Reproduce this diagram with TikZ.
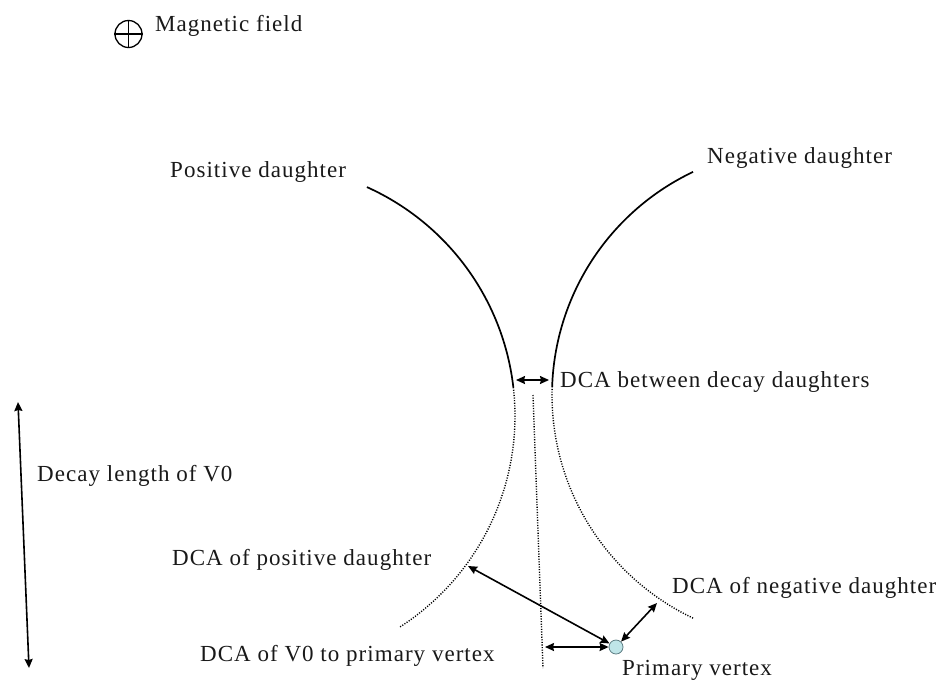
\documentclass[tikz,border=0pt]{standalone}
\usepackage{fontspec}
\setmainfont{Liberation Serif}[LetterSpace=4.5]
\usetikzlibrary{arrows.meta}
\definecolor{pvfill}{HTML}{BFE5E8}
\definecolor{pvline}{HTML}{5E7E84}
\begin{document}
\begin{tikzpicture}[x=1pt,y=-1pt,
  lbl/.style={anchor=base west,inner sep=0pt,font=\fontsize{23}{27}\selectfont,text=black!90},
  track/.style={line width=1.7pt,black},
  extrap/.style={line width=1.4pt,black,dash pattern=on 1.1pt off 1.5pt},
  dca/.style={line width=1.6pt,black,{Stealth[length=9pt,width=8pt,inset=1pt]}-{Stealth[length=9pt,width=8pt,inset=1pt]}}]
\useasboundingbox (0,0) rectangle (945,681);
% magnetic field symbol
\node[draw,circle,line width=1.3pt,minimum size=27pt,inner sep=0pt] (bfield) at (128.5,34) {};
\draw[line width=1.3pt] (bfield.north) -- (bfield.south);
\draw[line width=1.3pt] (bfield.west) -- (bfield.east);
\node[lbl] (tmag) at (155,31) {Magnetic field};
% tracks
\draw[track] plot[domain=-65.8:-6.6,samples=60,smooth] ({264+251*cos(\x)},{416+251*sin(\x)});
\draw[extrap] plot[domain=-6.6:57.2,samples=60,smooth] ({264+251*cos(\x)},{416+251*sin(\x)});
\draw[track] plot[domain=181.9:244.6,samples=60,smooth] ({799+247*cos(\x)},{395+247*sin(\x)});
\draw[extrap] plot[domain=115.4:181.9,samples=60,smooth] ({799+247*cos(\x)},{395+247*sin(\x)});
% V0 line
\coordinate (v0top) at (533,395);
\coordinate (v0bot) at (543,668);
\draw[extrap] (v0top) -- (v0bot);
% primary vertex
\node[circle,draw=pvline,fill=pvfill,line width=0.8pt,minimum size=14pt,inner sep=0pt] (pv) at (616,647) {};
% arrow endpoints
\coordinate (dcaL) at (516,380);
\coordinate (dcaR) at (549,380);
\coordinate (posd) at (468,566);
\coordinate (negd) at (657,603);
\coordinate (v0pt) at (545,647);
\coordinate (dlTop) at (18,402);
\coordinate (dlBot) at (29,668);
% arrows
\draw[dca] (dcaL) -- (dcaR);
\draw[dca] (posd) -- (pv);
\draw[dca] (negd) -- (pv);
\draw[dca] (v0pt) -- (pv);
\draw[dca] (dlTop) -- (dlBot);
% labels
\node[lbl] (tpos) at (170,177) {Positive daughter};
\node[lbl] (tneg) at (707,163) {Negative daughter};
\node[lbl] (tdcab) at (560,387) {DCA between decay daughters};
\node[lbl] (tdl) at (37,481) {Decay length of V0};
\node[lbl] (tdcap) at (172,565) {DCA of positive daughter};
\node[lbl] (tdcan) at (672,593) {DCA of negative daughter};
\node[lbl] (tdcav) at (200,661) {DCA of V0 to primary vertex};
\node[lbl] (tpv) at (622,675) {Primary vertex};
\end{tikzpicture}
\end{document}
